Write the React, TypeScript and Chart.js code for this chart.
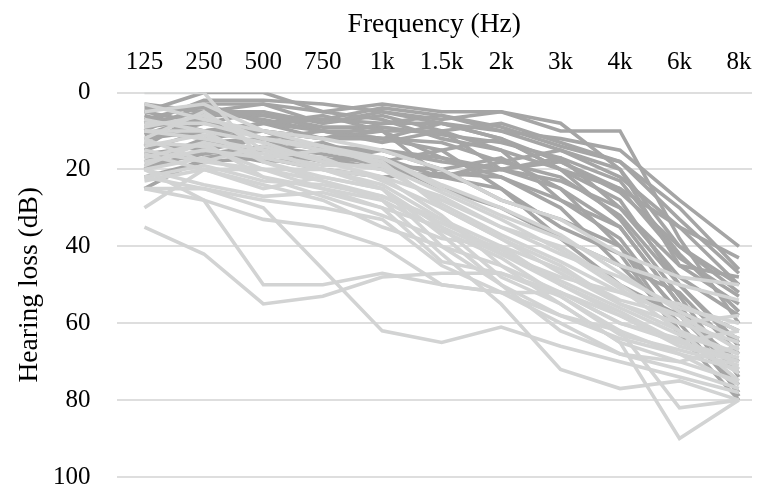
import { useEffect, useRef } from 'react';
import { Chart, registerables } from 'chart.js';

Chart.register(...registerables);

// Frequencies (category labels on the top axis)
const FREQS: string[] = ['125', '250', '500', '750', '1k', '1.5k', '2k', '3k', '4k', '6k', '8k'];
const Y_TICKS: number[] = [0, 20, 40, 60, 80, 100];

// Hearing loss (dB) per ear, darker group
const DARK_EARS: number[][] = [
  [5, 0, 0, 5, 3, 5, 5, 8, 20, 45, 55],
  [10, 3, 3, 8, 5, 7, 5, 10, 10, 38, 60],
  [15, 10, 8, 7, 8, 6, 10, 12, 15, 28, 40],
  [8, 5, 5, 10, 10, 10, 15, 20, 25, 35, 43],
  [12, 8, 10, 12, 12, 13, 18, 15, 20, 40, 50],
  [20, 15, 12, 15, 15, 18, 20, 17, 30, 48, 58],
  [25, 17, 15, 18, 17, 22, 20, 25, 35, 55, 62],
  [18, 12, 8, 10, 13, 10, 8, 13, 18, 30, 46],
  [6, 10, 10, 12, 8, 8, 12, 20, 28, 50, 65],
  [14, 5, 3, 5, 7, 12, 15, 28, 38, 58, 70],
  [22, 18, 17, 20, 22, 21, 22, 30, 45, 60, 78],
  [10, 12, 15, 13, 18, 15, 25, 35, 42, 63, 80],
  [7, 3, 8, 6, 10, 17, 20, 18, 25, 43, 53],
  [16, 14, 12, 10, 12, 15, 12, 20, 33, 53, 74],
  [12, 10, 8, 12, 10, 22, 25, 38, 50, 58, 73],
  [9, 7, 12, 14, 15, 20, 28, 33, 40, 62, 76],
  [5, 8, 5, 8, 6, 10, 20, 23, 30, 45, 48],
  [20, 12, 10, 15, 18, 25, 30, 38, 45, 52, 68],
  [3, 5, 7, 10, 12, 8, 10, 15, 22, 35, 50],
  [13, 15, 18, 17, 20, 22, 18, 22, 32, 50, 66],
  [8, 2, 2, 3, 5, 8, 12, 18, 26, 40, 52],
  [17, 13, 12, 18, 15, 17, 22, 28, 35, 55, 79],
  [11, 6, 6, 9, 9, 11, 13, 17, 23, 42, 57],
  [19, 16, 14, 16, 19, 20, 17, 25, 40, 57, 64],
  [4, 4, 6, 7, 4, 6, 9, 14, 18, 33, 47],
];

// Hearing loss (dB) per ear, lighter group
const LIGHT_EARS: number[][] = [
  [35, 42, 55, 53, 48, 47, 47, 52, 60, 65, 70],
  [20, 28, 50, 50, 47, 50, 52, 58, 64, 68, 72],
  [22, 25, 30, 46, 62, 65, 61, 66, 70, 74, 78],
  [0, 0, 18, 22, 25, 35, 48, 55, 65, 90, 80],
  [12, 5, 15, 20, 25, 40, 50, 58, 62, 82, 80],
  [15, 18, 20, 23, 28, 42, 55, 72, 77, 75, 80],
  [30, 20, 20, 25, 30, 35, 42, 48, 52, 55, 62],
  [18, 15, 17, 15, 18, 30, 38, 45, 55, 62, 68],
  [10, 10, 13, 18, 20, 28, 35, 40, 50, 60, 65],
  [25, 25, 28, 30, 33, 45, 52, 60, 68, 70, 75],
  [8, 8, 12, 15, 17, 25, 32, 38, 45, 50, 54],
  [20, 17, 22, 27, 32, 38, 40, 50, 58, 66, 70],
  [5, 3, 10, 12, 15, 20, 28, 33, 42, 48, 50],
  [13, 14, 20, 20, 22, 32, 45, 52, 60, 64, 73],
  [16, 20, 24, 28, 35, 40, 45, 55, 65, 70, 66],
  [23, 20, 25, 22, 25, 37, 50, 62, 68, 72, 77],
  [10, 12, 15, 17, 23, 30, 38, 47, 55, 60, 58],
  [7, 10, 18, 23, 27, 33, 42, 50, 57, 65, 62],
  [19, 13, 22, 25, 28, 36, 43, 53, 62, 68, 76],
  [12, 18, 14, 18, 22, 27, 35, 42, 48, 56, 60],
  [25, 28, 33, 35, 40, 50, 52, 52, 58, 65, 69],
  [3, 7, 10, 14, 17, 24, 30, 37, 47, 57, 64],
  [14, 11, 17, 20, 24, 33, 40, 46, 54, 58, 67],
  [20, 24, 27, 26, 30, 44, 47, 53, 63, 67, 71],
  [17, 13, 16, 19, 19, 29, 37, 44, 52, 58, 72],
  [9, 6, 12, 14, 19, 26, 33, 41, 51, 62, 75],
  [22, 19, 23, 24, 27, 34, 41, 49, 56, 63, 68],
];

const DARK_COLOR = '#a5a5a5';
const LIGHT_COLOR = '#d2d3d3';
const FONT_FAMILY = '"Liberation Serif", "Times New Roman", serif';

export default function App() {
  const ref = useRef<HTMLCanvasElement>(null);

  useEffect(() => {
    const canvas = ref.current;
    if (!canvas) return;
    const mk = (rows: number[][], color: string) =>
      rows.map((r) => ({
        data: r.map((v, i) => ({ x: i, y: v })),
        borderColor: color,
        backgroundColor: color,
        borderWidth: 3.6,
        pointRadius: 0,
        pointHoverRadius: 0,
        fill: false,
        tension: 0,
      }));

    const chart = new Chart(canvas, {
      type: 'line',
      data: { datasets: [...mk(LIGHT_EARS, LIGHT_COLOR), ...mk(DARK_EARS, DARK_COLOR)] as any },
      options: {
        animation: false,
        responsive: false,
        maintainAspectRatio: false,
        layout: { padding: { left: 0, right: 5, top: 0, bottom: 13 } },
        plugins: { legend: { display: false }, tooltip: { enabled: false } },
        scales: {
          x: {
            type: 'linear',
            position: 'top',
            min: -0.47,
            max: 10.22,
            afterBuildTicks: (scale: any) => {
              scale.ticks = FREQS.map((_, i) => ({ value: i }));
            },
            afterFit: (scale: any) => {
              scale.height = 92.5;
              scale.paddingLeft = 0;
              scale.paddingRight = 0;
            },
            ticks: {
              callback: (v: any) => FREQS[Math.round(Number(v))] ?? '',
              color: '#000',
              font: { family: FONT_FAMILY, size: 25, lineHeight: 1.2 },
              padding: 15,
              maxRotation: 0,
              autoSkip: false,
            },
            grid: { display: false, drawTicks: false },
            border: { display: false },
            title: {
              display: true,
              text: 'Frequency (Hz)',
              color: '#000',
              font: { family: FONT_FAMILY, size: 27.5, lineHeight: 1.2 },
              padding: { top: 8.5, bottom: 4 },
            },
          },
          y: {
            type: 'linear',
            reverse: true,
            min: 0,
            max: 100,
            afterBuildTicks: (scale: any) => {
              scale.ticks = Y_TICKS.map((v) => ({ value: v }));
            },
            afterFit: (scale: any) => {
              scale.width = 116.5;
              scale.paddingTop = 0;
              scale.paddingBottom = 0;
            },
            ticks: {
              color: '#000',
              font: { family: FONT_FAMILY, size: 25, lineHeight: 1 },
              padding: 26,
            },
            grid: { color: '#dedede', lineWidth: 2, drawTicks: false },
            border: { display: false },
            title: {
              display: true,
              text: 'Hearing loss (dB)',
              color: '#000',
              font: { family: FONT_FAMILY, size: 27.5, lineHeight: 1.2 },
              padding: { top: 13, bottom: 4 },
            },
          },
        },
      },
    });
    return () => chart.destroy();
  }, []);

  return (
    <div style={{ position: 'absolute', left: 0, top: 0, width: 757, height: 490, background: '#fff' }}>
      <canvas ref={ref} width={757} height={490} style={{ width: 757, height: 490, display: 'block' }} />
    </div>
  );
}
